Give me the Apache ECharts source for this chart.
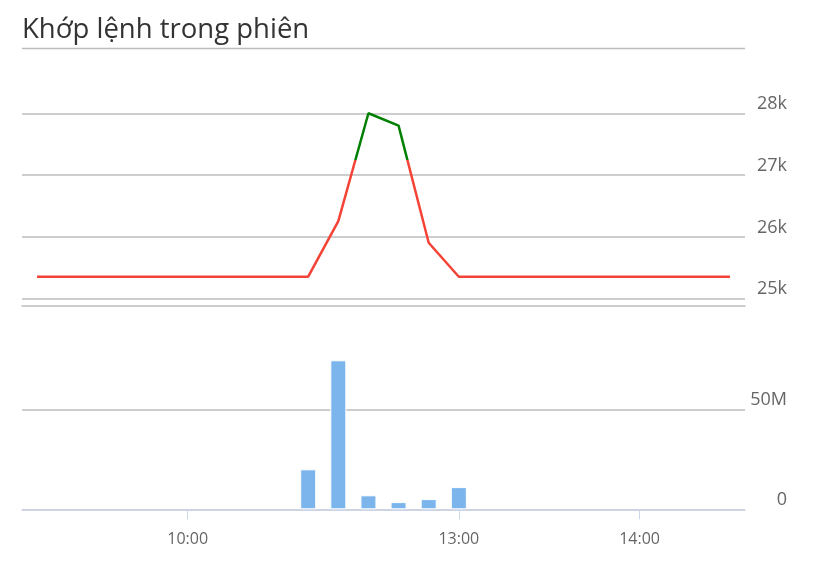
<!DOCTYPE html>
<html>
<head>
<meta charset="utf-8">
<script src="https://cdn.jsdelivr.net/npm/echarts@6/dist/echarts.min.js"></script>
<style>
html,body{margin:0;padding:0;background:#fff;}
#chart{width:825px;height:568px;}
</style>
</head>
<body>
<div id="chart"></div>
<script>
const titleText = 'Khớp lệnh trong phiên';
const categories = ['09:10','09:20','09:30','09:40','09:50','10:00','10:10','10:20','10:30','10:40','10:50','11:00','11:10','11:20','13:00','13:10','13:20','13:30','13:40','13:50','14:00','14:10','14:20','14:30'];
const shownTimeLabels = ['10:00','13:00','14:00'];
const prices = [25350,25350,25350,25350,25350,25350,25350,25350,25350,25350,26250,28000,27800,25900,25350,25350,25350,25350,25350,25350,25350,25350,25350,25350];
const volumes = [null,null,null,null,null,null,null,null,null,20000000,74500000,7000000,3600000,5100000,11100000,null,null,null,null,null,null,null,null,null];
const priceTicks = [25000,26000,27000,28000];
const volumeTicks = [0,50000000];
const upThreshold = 27250;

const chart = echarts.init(document.getElementById('chart'), null, {renderer:'canvas'});
const gridLineColor = '#bdbdbd';
const labelFont = '"Open Sans", "Noto Sans", sans-serif';

const option = {
  animation: false,
  title: {
    text: titleText, left: 22, top: 16, padding: 0,
    textStyle: {fontFamily: labelFont, fontSize: 27.5, fontWeight: 'normal', color: '#333'}
  },
  graphic: [{
    type: 'line', shape: {x1: 22, y1: 48.5, x2: 745, y2: 48.5},
    style: {stroke: gridLineColor, lineWidth: 1.5}
  }],
  grid: [
    {left: 22, right: 80, top: 52.2, height: 246.1},
    {left: 22, right: 80, top: 349.3, height: 160}
  ],
  visualMap: {
    show: false, type: 'piecewise', seriesIndex: 0, dimension: 1,
    pieces: [
      {min: 0, max: upThreshold, color: '#f44336'},
      {min: upThreshold, max: 100000, color: '#008000'}
    ]
  },
  xAxis: [
    {
      type: 'category', gridIndex: 0, data: categories, boundaryGap: true, offset: 7,
      axisLine: {lineStyle: {color: gridLineColor, width: 1.5}},
      axisTick: {show: false}, axisLabel: {show: false}
    },
    {
      type: 'category', gridIndex: 1, data: categories, boundaryGap: true, offset: 4,
      axisLine: {lineStyle: {color: '#ccd6eb', width: 1.5}},
      axisTick: {
        show: true, alignWithLabel: true, length: 10,
        interval: function (i, v) { return shownTimeLabels.indexOf(v) >= 0; },
        lineStyle: {color: '#ccd6eb'}
      },
      axisLabel: {
        margin: 18, fontSize: 16, color: '#666', fontFamily: labelFont,
        interval: function (i, v) { return shownTimeLabels.indexOf(v) >= 0; }
      }
    }
  ],
  yAxis: [
    {
      type: 'value', gridIndex: 0, position: 'right', min: 25000, max: 28990, interval: 1000,
      axisLine: {show: false}, axisTick: {show: false},
      splitLine: {showMaxLine: false, lineStyle: {color: gridLineColor, width: 1.5}},
      axisLabel: {
        showMaxLabel: false, margin: 42, align: 'right', verticalAlign: 'bottom',
        padding: [0, 0, 0, 0], fontSize: 18, color: '#666', fontFamily: labelFont,
        formatter: function (v) { return priceTicks.indexOf(v) >= 0 ? (v / 1000) + 'k' : ''; }
      }
    },
    {
      type: 'value', gridIndex: 1, position: 'right', min: 0, max: 80000000, interval: 50000000,
      axisLine: {show: false}, axisTick: {show: false},
      splitLine: {showMaxLine: false, lineStyle: {color: gridLineColor, width: 1.5}},
      axisLabel: {
        showMaxLabel: false, margin: 42, align: 'right', verticalAlign: 'bottom',
        padding: [0, 0, 0, 0], fontSize: 18, color: '#666', fontFamily: labelFont,
        formatter: function (v) { return volumeTicks.indexOf(v) >= 0 ? (v === 0 ? '0' : (v / 1000000) + 'M') : ''; }
      }
    }
  ],
  series: [
    {
      type: 'line', xAxisIndex: 0, yAxisIndex: 0, data: prices,
      showSymbol: false, lineStyle: {width: 2.5}
    },
    {
      type: 'bar', xAxisIndex: 1, yAxisIndex: 1, data: volumes, barWidth: 16,
      itemStyle: {color: '#7cb5ec', borderColor: '#ffffff', borderWidth: 1}
    }
  ]
};
chart.setOption(option);
</script>
</body>
</html>
